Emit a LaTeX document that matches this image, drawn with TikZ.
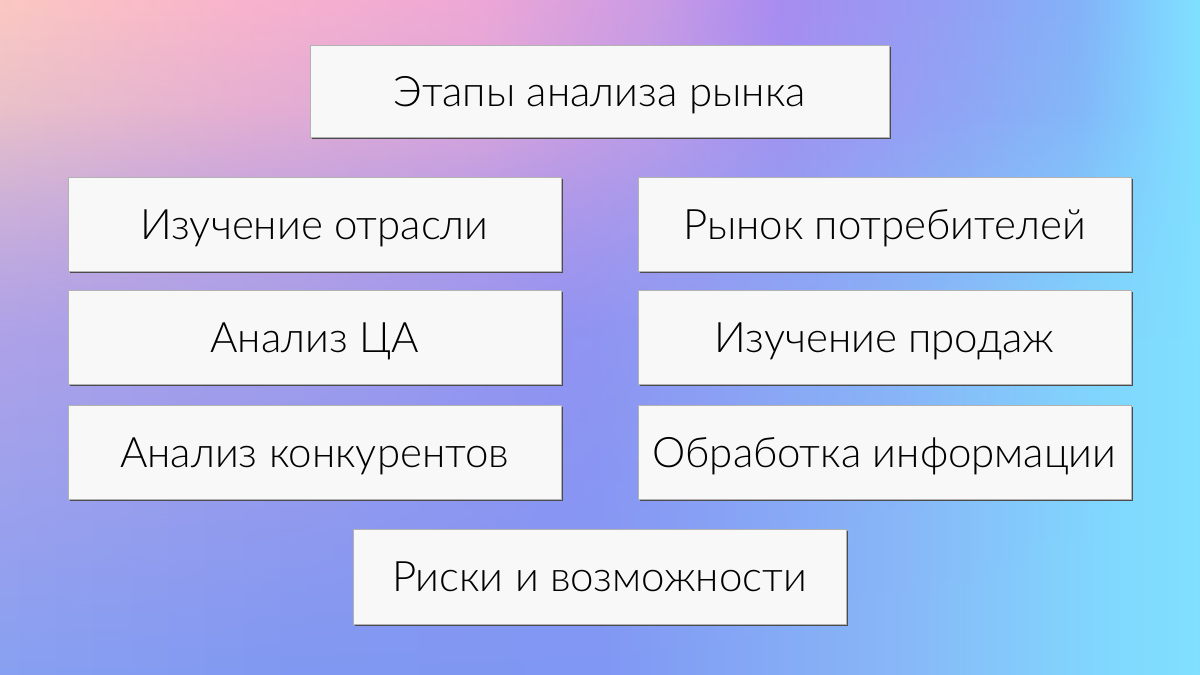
\documentclass[tikz,border=0pt]{standalone}
\usepackage{fontspec}
\setmainfont{Lato Light}
\usetikzlibrary{fadings,shadows}
\definecolor{t0}{HTML}{FCC8C2}
\definecolor{t1}{HTML}{F9B4CC}
\definecolor{t2}{HTML}{EEA8D6}
\definecolor{t3}{HTML}{CC9CE4}
\definecolor{t4}{HTML}{A88CF0}
\definecolor{t5}{HTML}{92A0F4}
\definecolor{t6}{HTML}{84B2F8}
\definecolor{t7}{HTML}{80D4FF}
\definecolor{t8}{HTML}{80E0FF}
\definecolor{m0}{HTML}{D4A4DE}
\definecolor{m1}{HTML}{C4A0E4}
\definecolor{m2}{HTML}{A48EF0}
\definecolor{m3}{HTML}{9898F2}
\definecolor{m4}{HTML}{88B0F6}
\definecolor{m5}{HTML}{80D4FC}
\definecolor{m6}{HTML}{80E0FF}
\definecolor{b0}{HTML}{88A0F2}
\definecolor{b1}{HTML}{8098F2}
\definecolor{b2}{HTML}{8098F4}
\definecolor{b3}{HTML}{88B8F8}
\definecolor{b4}{HTML}{80D8FF}
\definecolor{b5}{HTML}{80E0FF}
\definecolor{cardfill}{HTML}{F8F8F8}
\pgfdeclarehorizontalshading{toprow}{100bp}{color(0bp)=(t0); color(25bp)=(t0); color(35bp)=(t1); color(45bp)=(t2); color(52bp)=(t3); color(57.5bp)=(t4); color(65bp)=(t5); color(70bp)=(t6); color(73.5bp)=(t7); color(75bp)=(t8); color(100bp)=(t8)}
\pgfdeclarehorizontalshading{midrow}{100bp}{color(0bp)=(m0); color(25bp)=(m0); color(37.5bp)=(m1); color(48bp)=(m2); color(54bp)=(m3); color(62.5bp)=(m4); color(71bp)=(m5); color(75bp)=(m6); color(100bp)=(m6)}
\pgfdeclarehorizontalshading{botrow}{100bp}{color(0bp)=(b0); color(25bp)=(b0); color(37.5bp)=(b1); color(50bp)=(b2); color(62.5bp)=(b3); color(71bp)=(b4); color(75bp)=(b5); color(100bp)=(b5)}
\pgfdeclareverticalshading{midfadeshade}{100bp}{color(0bp)=(transparent!0); color(50bp)=(transparent!0); color(67bp)=(transparent!100); color(100bp)=(transparent!100)}
\tikzfading[name=midfade, shading=midfadeshade]
\tikzfading[name=botfade, top color=transparent!100, middle color=transparent!100, bottom color=transparent!0]
\tikzset{
  card/.style={rectangle, fill=cardfill, draw=black!30, line width=0.5pt,
    general shadow={shadow xshift=1.6pt, shadow yshift=-1.6pt, fill=black!70},
    inner sep=0pt, font=\fontsize{42}{46}\selectfont, text=black,
    text height=30pt, text depth=0pt},
  wide/.style={card, minimum width=493pt, minimum height=94pt},
}
\begin{document}
\begin{tikzpicture}[x=1pt,y=-1pt]
\useasboundingbox (0,0) rectangle (1200,675);
\shade[shading=toprow] (0,0) rectangle (1200,675);
\shade[shading=midrow, path fading=midfade] (0,0) rectangle (1200,675);
\shade[shading=botrow, path fading=botfade] (0,0) rectangle (1200,675);
\node[card, minimum width=579pt, minimum height=92pt] (title) at (599.5,91) {Этапы анализа рынка};
\node[wide] (l1) at (314.5,224) {Изучение отрасли};
\node[wide] (l2) at (314.5,337) {Анализ ЦА};
\node[wide] (l3) at (314.5,452.5) {Анализ конкурентов};
\node[wide] (r1) at (884.5,224) {Рынок потребителей};
\node[wide] (r2) at (884.5,337) {Изучение продаж};
\node[wide] (r3) at (884.5,452.5) {Обработка информации};
\node[wide, minimum height=95pt] (bot) at (599.5,576.5) {Риски и возможности};
\end{tikzpicture}
\end{document}
